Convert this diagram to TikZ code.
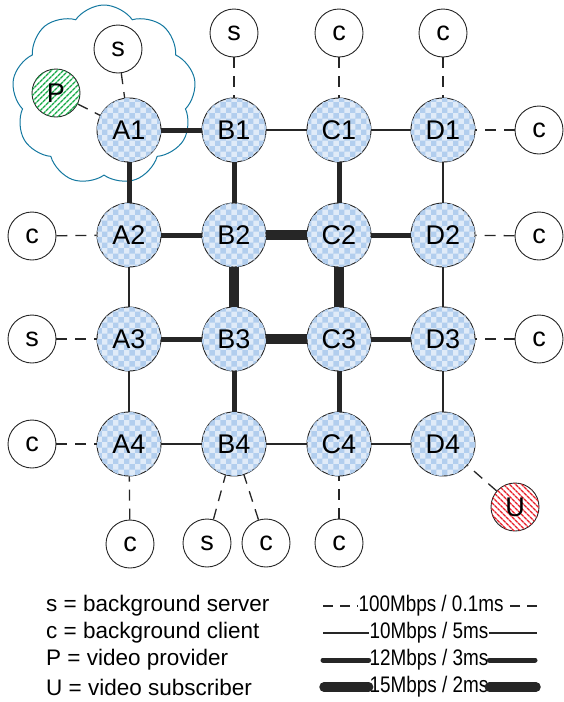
\documentclass[tikz,border=0pt]{standalone}
\usepackage{fontspec}
\setmainfont{Liberation Sans}
\usetikzlibrary{shapes.symbols,patterns,patterns.meta}
\definecolor{nodeblue}{RGB}{178,206,238}
\definecolor{cloudc}{RGB}{20,120,160}
\definecolor{pgreen}{RGB}{20,170,70}
\definecolor{ured}{RGB}{232,30,40}
\begin{document}
\begin{tikzpicture}[x=1pt,y=-1pt,
  router/.style={circle, draw=black!85, line width=0.9pt, minimum size=64pt, inner sep=0pt,
    fill=nodeblue!40!white, postaction={pattern=checkerboard, pattern color=nodeblue},
    font=\fontsize{27}{27}\selectfont},
  host/.style={circle, draw=black!85, line width=0.9pt, minimum size=48pt, inner sep=0pt,
    fill=white, font=\fontsize{27}{27}\selectfont},
  provider/.style={host, postaction={pattern={Lines[angle=45,distance=4pt,line width=1.5pt]}, pattern color=pgreen}},
  subscriber/.style={host, postaction={pattern={Lines[angle=-45,distance=4pt,line width=1.5pt]}, pattern color=ured}},
  lten/.style={line width=1.2pt, draw=black!85},
  ltwelve/.style={line width=5pt, draw=black!85},
  lfifteen/.style={line width=9.5pt, draw=black!85},
  acc/.style={line width=1.3pt, draw=black!85, dash pattern=on 11pt off 8pt},
  legtxt/.style={inner sep=1pt, font=\fontsize{22.5}{22.5}\selectfont},
  rate/.style={legtxt, transform shape, xscale=0.84},
]
\useasboundingbox (0,0) rectangle (563,702);

% cloud
\node[cloud, cloud puffs=9, cloud puff arc=110, aspect=1, draw=cloudc, line width=1pt,
      minimum width=184pt, minimum height=180pt] (cloud) at (104,95) {};

% routers
\foreach \c/\x in {A/129,B/234,C/339,D/443}{
  \foreach \r/\y in {1/130,2/235,3/339,4/444}{
    \node[router] (\c\r) at (\x,\y) {\c\r};
  }
}

% hosts
\node[host] (sA1) at (118,49) {s};
\node[provider] (P) at (56,93) {P};
\node[host] (sB1) at (234,33) {s};
\node[host] (cC1) at (339,33) {c};
\node[host] (cD1) at (443,33) {c};
\node[host] (cD1r) at (539,130) {c};
\node[host] (cD2r) at (539,236) {c};
\node[host] (cD3r) at (539,339) {c};
\node[host] (cA2) at (32,236) {c};
\node[host] (sA3) at (32,339) {s};
\node[host] (cA4) at (32,444) {c};
\node[host] (cA4b) at (130,544) {c};
\node[host] (sB4) at (207,543) {s};
\node[host] (cB4) at (266,543) {c};
\node[host] (cC4) at (339,543) {c};
\node[subscriber] (U) at (515,507) {U};

% access links
\foreach \a/\b in {sA1/A1,P/A1,sB1/B1,cC1/C1,cD1/D1,cD1r/D1,cD2r/D2,cD3r/D3,
                   cA2/A2,sA3/A3,cA4/A4,cA4b/A4,sB4/B4,cB4/B4,cC4/C4,U/D4}{
  \draw[acc] (\a) -- (\b);
}

% 10 Mbps
\foreach \a/\b in {B1/C1,C1/D1,A4/B4,B4/C4,C4/D4,A2/A3,A3/A4,D1/D2,D2/D3,D3/D4}{
  \draw[lten] (\a) -- (\b);
}
% 12 Mbps
\foreach \a/\b in {A1/B1,A2/B2,C2/D2,A3/B3,C3/D3,A1/A2,B1/B2,B3/B4,C1/C2,C3/C4}{
  \draw[ltwelve] (\a) -- (\b);
}
% 15 Mbps
\foreach \a/\b in {B2/C2,B3/C3,B2/B3,C2/C3}{
  \draw[lfifteen] (\a) -- (\b);
}

% legend left
\node[legtxt, anchor=west] (ls) at (45,606) {s = background server};
\node[legtxt, anchor=west] (lc) at (45,633) {c = background client};
\node[legtxt, anchor=west] (lp) at (45,660) {P = video provider};
\node[legtxt, anchor=west] (lu) at (45,687) {U = video subscriber};

% legend right
\node[rate] (t1) at (431,606) {100Mbps / 0.1ms};
\node[rate] (t2) at (429,633) {10Mbps / 5ms};
\node[rate] (t3) at (429,660) {12Mbps / 3ms};
\node[rate] (t4) at (429,687) {15Mbps / 2ms};
\coordinate (a1) at (323,606); \coordinate (b1) at (537,606);
\coordinate (a2) at (323,633); \coordinate (b2) at (537,633);
\coordinate (a3) at (323,660); \coordinate (b3) at (535,660);
\coordinate (a4) at (324,687); \coordinate (b4) at (536,687);
\draw[acc, dash pattern=on 10pt off 7pt] (a1) -- (t1.west);
\draw[acc, dash pattern=on 10pt off 7pt] (b1) -- (t1.east);
\draw[lten] (a2) -- (t2.west);
\draw[lten] (t2.east) -- (b2);
\draw[ltwelve, line cap=round] (a3) -- (t3.west);
\draw[ltwelve, line cap=round] (t3.east) -- (b3);
\draw[lfifteen, line cap=round] (a4) -- (t4.west);
\draw[lfifteen, line cap=round] (t4.east) -- (b4);
\end{tikzpicture}
\end{document}
